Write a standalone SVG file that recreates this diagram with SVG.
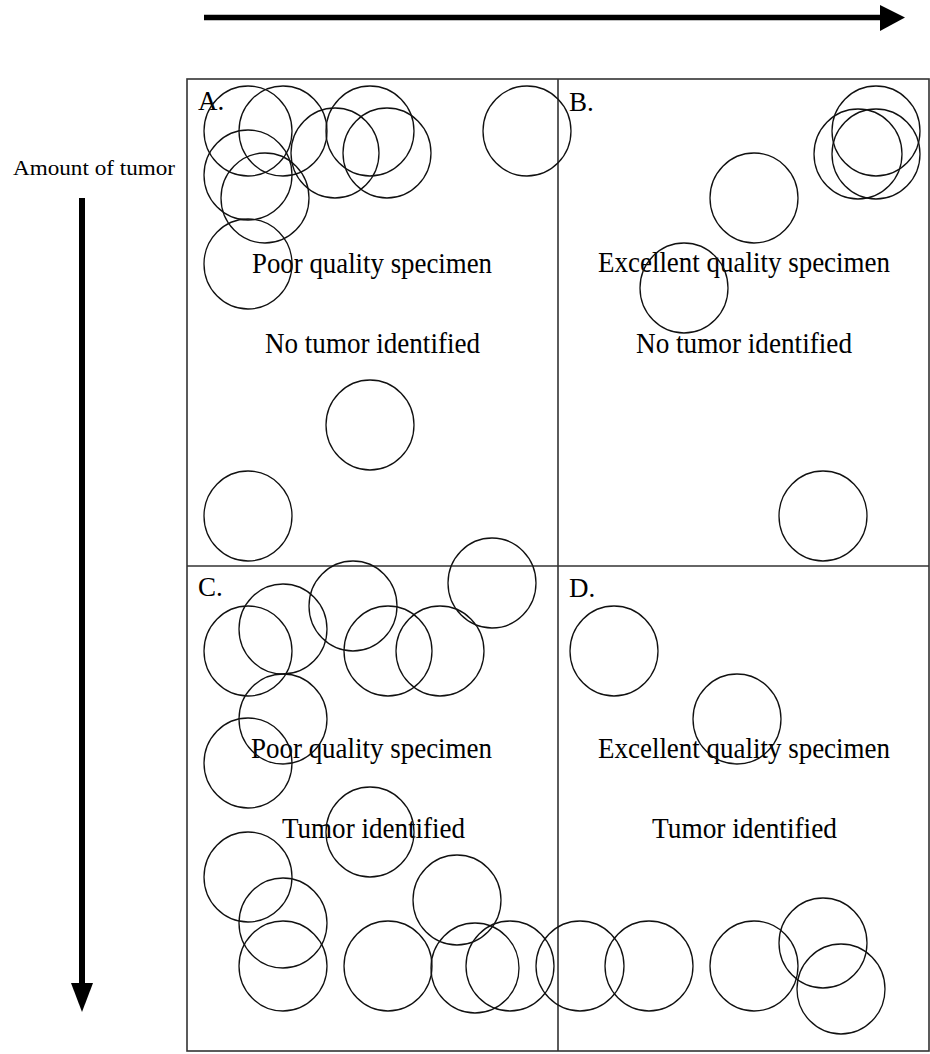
<svg xmlns="http://www.w3.org/2000/svg" width="930" height="1054" viewBox="0 0 930 1054">
<style>
.t{font-family:"Liberation Serif","Times New Roman",serif;font-size:30px;fill:#000}
.lab{font-family:"Liberation Serif","Times New Roman",serif;font-size:27px;fill:#000}
.ax{font-family:"Liberation Serif","Times New Roman",serif;font-size:22px;fill:#000}
.c{fill:none;stroke:#111;stroke-width:1.3}
.frame{fill:none;stroke:#333;stroke-width:1.6}
</style>
<rect width="930" height="1054" fill="#fff"/>
<g id="axes">
<line x1="204" y1="17.5" x2="882" y2="17.5" stroke="#000" stroke-width="5.5"/>
<polygon points="880,5 905,17.5 880,31" fill="#000"/>
<text class="ax" x="13" y="175" textLength="162" lengthAdjust="spacingAndGlyphs">Amount of tumor</text>
<line x1="82" y1="198" x2="82" y2="985" stroke="#000" stroke-width="6"/>
<polygon points="71,983 93,983 82,1012" fill="#000"/>
</g>
<g id="frame">
<rect class="frame" x="187" y="79" width="742" height="972"/>
<line class="frame" x1="558" y1="79" x2="558" y2="1051"/>
<line class="frame" x1="187" y1="566" x2="929" y2="566"/>
</g>
<g id="panelA">
<text class="lab" x="198" y="110">A.</text>
<text class="t" x="252" y="273" textLength="240" lengthAdjust="spacingAndGlyphs">Poor quality specimen</text>
<text class="t" x="265" y="353" textLength="215" lengthAdjust="spacingAndGlyphs">No tumor identified</text>
<ellipse class="c" cx="248" cy="131" rx="44" ry="45"/>
<ellipse class="c" cx="283" cy="131" rx="44" ry="45"/>
<ellipse class="c" cx="370" cy="131" rx="44" ry="45"/>
<ellipse class="c" cx="335" cy="153" rx="44" ry="45"/>
<ellipse class="c" cx="387" cy="153" rx="44" ry="45"/>
<ellipse class="c" cx="248" cy="175" rx="44" ry="45"/>
<ellipse class="c" cx="265" cy="198" rx="44" ry="45"/>
<ellipse class="c" cx="248" cy="264" rx="44" ry="45"/>
<ellipse class="c" cx="527" cy="131" rx="44" ry="45"/>
<ellipse class="c" cx="370" cy="425" rx="44" ry="45"/>
<ellipse class="c" cx="248" cy="516" rx="44" ry="45"/>
</g>
<g id="panelB">
<text class="lab" x="569" y="111">B.</text>
<text class="t" x="598" y="272" textLength="292" lengthAdjust="spacingAndGlyphs">Excellent quality specimen</text>
<text class="t" x="636" y="353" textLength="216" lengthAdjust="spacingAndGlyphs">No tumor identified</text>
<ellipse class="c" cx="876" cy="131" rx="44" ry="45"/>
<ellipse class="c" cx="858" cy="154" rx="44" ry="45"/>
<ellipse class="c" cx="876" cy="154" rx="44" ry="45"/>
<ellipse class="c" cx="754" cy="198" rx="44" ry="45"/>
<ellipse class="c" cx="684" cy="288" rx="44" ry="45"/>
<ellipse class="c" cx="823" cy="516" rx="44" ry="45"/>
</g>
<g id="panelC">
<text class="lab" x="198" y="596">C.</text>
<text class="t" x="251" y="758" textLength="241" lengthAdjust="spacingAndGlyphs">Poor quality specimen</text>
<text class="t" x="282" y="838" textLength="183" lengthAdjust="spacingAndGlyphs">Tumor identified</text>
<ellipse class="c" cx="248" cy="651" rx="44" ry="45"/>
<ellipse class="c" cx="283" cy="629" rx="44" ry="45"/>
<ellipse class="c" cx="353" cy="606" rx="44" ry="45"/>
<ellipse class="c" cx="388" cy="651" rx="44" ry="45"/>
<ellipse class="c" cx="440" cy="651" rx="44" ry="45"/>
<ellipse class="c" cx="492" cy="583" rx="44" ry="45"/>
<ellipse class="c" cx="283" cy="719" rx="44" ry="45"/>
<ellipse class="c" cx="248" cy="763" rx="44" ry="45"/>
<ellipse class="c" cx="370" cy="832" rx="44" ry="45"/>
<ellipse class="c" cx="248" cy="877" rx="44" ry="45"/>
<ellipse class="c" cx="283" cy="923" rx="44" ry="45"/>
<ellipse class="c" cx="283" cy="966" rx="44" ry="45"/>
<ellipse class="c" cx="388" cy="966" rx="44" ry="45"/>
<ellipse class="c" cx="457" cy="900" rx="44" ry="45"/>
<ellipse class="c" cx="475" cy="968" rx="44" ry="45"/>
<ellipse class="c" cx="510" cy="966" rx="44" ry="45"/>
<ellipse class="c" cx="580" cy="966" rx="44" ry="45"/>
</g>
<g id="panelD">
<text class="lab" x="569" y="597">D.</text>
<text class="t" x="598" y="758" textLength="292" lengthAdjust="spacingAndGlyphs">Excellent quality specimen</text>
<text class="t" x="652" y="838" textLength="185" lengthAdjust="spacingAndGlyphs">Tumor identified</text>
<ellipse class="c" cx="614" cy="651" rx="44" ry="45"/>
<ellipse class="c" cx="737" cy="719" rx="44" ry="45"/>
<ellipse class="c" cx="649" cy="966" rx="44" ry="45"/>
<ellipse class="c" cx="754" cy="966" rx="44" ry="45"/>
<ellipse class="c" cx="823" cy="943" rx="44" ry="45"/>
<ellipse class="c" cx="841" cy="989" rx="44" ry="45"/>
</g>
</svg>
